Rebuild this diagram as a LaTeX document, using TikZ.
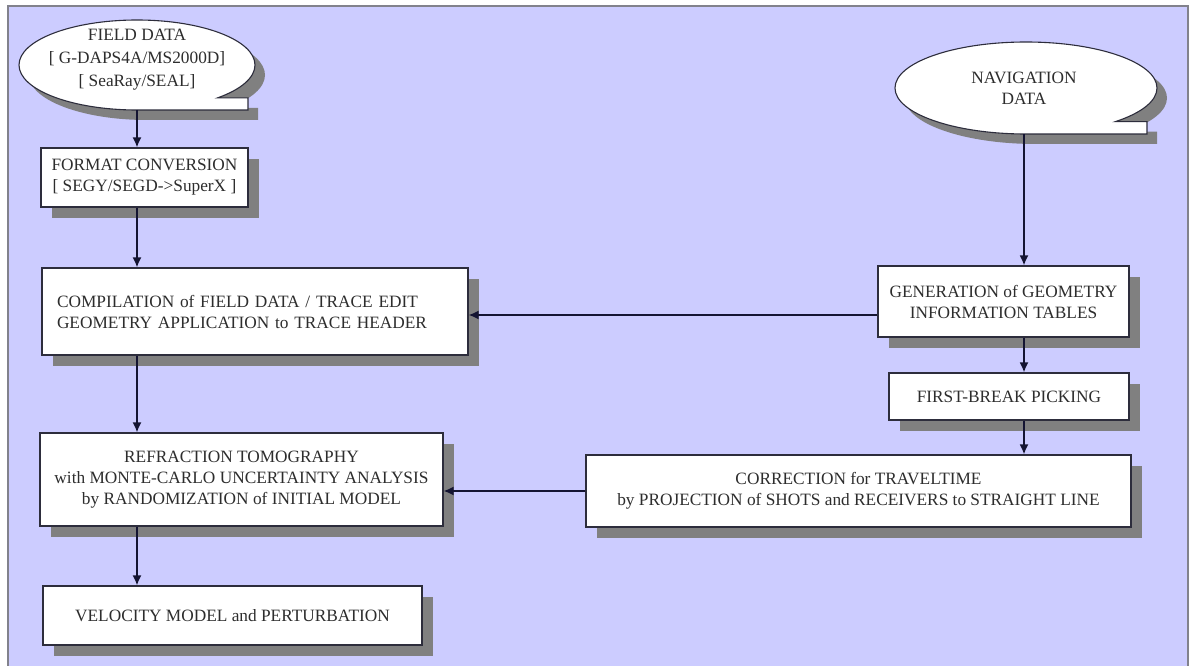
\documentclass[tikz,border=0pt]{standalone}
\usepackage{fontspec}
\setmainfont{Liberation Serif}
\newfontfamily\diagfont{Liberation Serif}
\usetikzlibrary{arrows.meta,shapes.geometric,shadows}
\definecolor{lav}{RGB}{204,204,255}
\definecolor{frame}{RGB}{130,130,140}
\definecolor{shadowgray}{RGB}{128,128,128}
\definecolor{edgec}{RGB}{45,45,60}
\definecolor{arrc}{RGB}{20,20,50}
\definecolor{txt}{RGB}{45,45,45}
\begin{document}
\begin{tikzpicture}[x=1pt,y=-1pt,
  every node/.style={font=\diagfont\fontsize{17.3}{21}\selectfont, text=txt},
  procbox/.style={draw=edgec, line width=1.1pt, fill=white, inner sep=0pt, align=center,
    drop shadow={shadow xshift=11pt, shadow yshift=-11pt, fill=shadowgray, opacity=1}},
  tapenode/.style={shape=ellipse, inner sep=0pt, align=center},
  tapeline/.style={draw=edgec, line width=1.1pt, fill=white},
  tapeshadow/.style={fill=shadowgray},
  arr/.style={draw=arrc, line width=1.8pt, -{Latex[length=10pt,width=9pt]}}]
\useasboundingbox (0,0) rectangle (1192,666);
% background
\fill[white] (0,0) rectangle (1192,666);
\filldraw[fill=lav, draw=frame, line width=1.5pt] (8,6) rectangle (1188,680);

% FIELD DATA callout (shadow, then shape)
\path[tapeshadow, shift={(10,10)}] (137,110) arc[start angle=-90, end angle=-407, x radius=118pt, y radius=45pt] -- (248,97.9) -- (248,110) -- cycle;
\path[tapeline] (137,110) arc[start angle=-90, end angle=-407, x radius=118pt, y radius=45pt] -- (248,97.9) -- (248,110) -- cycle;
\node[tapenode, minimum width=236pt, minimum height=90pt, font=\diagfont\fontsize{17.3}{23}\selectfont] (fd) at (137,60) {FIELD DATA\\{[} G-DAPS4A/MS2000D{]}\\{[} SeaRay/SEAL{]}};
\coordinate (fdb) at (137,110);

% NAVIGATION DATA callout
\path[tapeshadow, shift={(10,10)}] (1026,134) arc[start angle=-90, end angle=-407, x radius=131pt, y radius=46pt] -- (1147,121.6) -- (1147,134) -- cycle;
\path[tapeline] (1026,134) arc[start angle=-90, end angle=-407, x radius=131pt, y radius=46pt] -- (1147,121.6) -- (1147,134) -- cycle;
\node[tapenode, minimum width=262pt, minimum height=92pt] (nav) at (1024,88) {NAVIGATION\\DATA};

% process boxes
\node[procbox, minimum width=207pt, minimum height=59pt] (fc) at (144.5,177.5) {FORMAT CONVERSION\\{[} SEGY/SEGD->SuperX ]};
\node[procbox, minimum width=426pt, minimum height=87pt, text width=396pt, inner xsep=15pt, align=left] (comp) at (255,311.5) {COMPILATION of FIELD DATA / TRACE EDIT\\GEOMETRY APPLICATION to TRACE HEADER};
\node[procbox, minimum width=251pt, minimum height=71pt] (geo) at (1003.5,301.5) {GENERATION of GEOMETRY\\INFORMATION TABLES};
\node[procbox, minimum width=240pt, minimum height=47pt] (fb) at (1009,396.5) {FIRST-BREAK PICKING};
\node[procbox, minimum width=545pt, minimum height=72pt] (corr) at (858.5,491) {CORRECTION for TRAVELTIME\\by PROJECTION of SHOTS and RECEIVERS to STRAIGHT LINE};
\node[procbox, minimum width=403pt, minimum height=93pt] (refr) at (241.5,479.5) {REFRACTION TOMOGRAPHY\\with MONTE-CARLO UNCERTAINTY ANALYSIS\\by RANDOMIZATION of INITIAL MODEL};
\node[procbox, minimum width=379pt, minimum height=59pt] (vel) at (232.5,615.5) {VELOCITY MODEL and PERTURBATION};

% connectors
\draw[arr] (fdb) -- (fdb |- fc.north);
\draw[arr] (fc.south -| fdb) -- (comp.north -| fdb);
\draw[arr] (comp.south -| fdb) -- (refr.north -| fdb);
\draw[arr] (refr.south -| fdb) -- (vel.north -| fdb);
\draw[arr] (nav.south) -- (nav.south |- geo.north);
\draw[arr] (geo.south -| nav.south) -- (fb.north -| nav.south);
\draw[arr] (fb.south -| nav.south) -- (corr.north -| nav.south);
\draw[arr] ([yshift=-3.5pt]geo.west |- comp.east) -- ([yshift=-3.5pt]comp.east);
\draw[arr] (corr.west) -- (corr.west -| refr.east);
\end{tikzpicture}
\end{document}
